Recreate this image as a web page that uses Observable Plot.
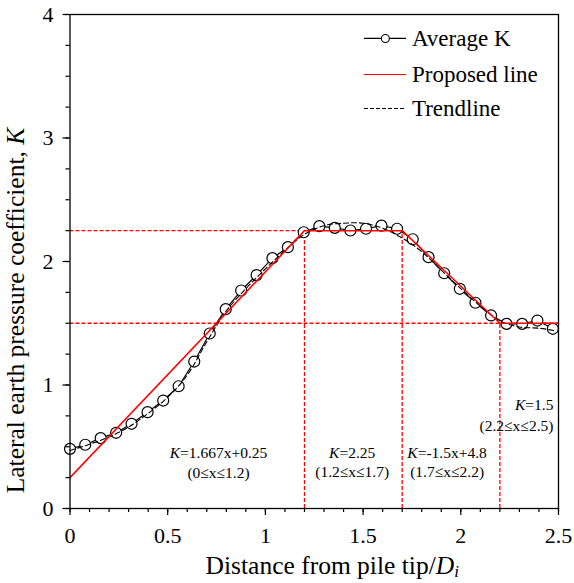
<!DOCTYPE html>
<html><head><meta charset="utf-8">
<script src="https://cdn.jsdelivr.net/npm/d3@7"></script>
<script src="https://cdn.jsdelivr.net/npm/@observablehq/plot@0.6"></script>
<style>
body{margin:0;background:#fff;}
#chart svg{display:block;}
</style></head><body><div id="chart"></div>
<script>
// Average K (circles)
const avgX = [0, 0.078, 0.157, 0.236, 0.315, 0.397, 0.477, 0.556, 0.636, 0.715, 0.797, 0.876,
  0.955, 1.036, 1.115, 1.196, 1.276, 1.355, 1.435, 1.515, 1.594, 1.674, 1.754, 1.835,
  1.915, 1.995, 2.075, 2.155, 2.234, 2.314, 2.392, 2.471];
const avgK = [0.483, 0.516, 0.57, 0.613, 0.686, 0.78, 0.874, 0.99, 1.19, 1.417, 1.614, 1.765,
  1.89, 2.027, 2.116, 2.237, 2.286, 2.272, 2.251, 2.265, 2.29, 2.265, 2.18, 2.035,
  1.905, 1.779, 1.666, 1.563, 1.495, 1.495, 1.522, 1.455];
// Trendline (dashed)
const trendX = [0, 0.1, 0.2, 0.3, 0.4, 0.5, 0.6, 0.7, 0.8, 0.9, 1.0, 1.1, 1.2, 1.3, 1.4, 1.5,
  1.6, 1.7, 1.8, 1.9, 2.0, 2.1, 2.2, 2.3, 2.4, 2.48];
const trendK = [0.47, 0.52, 0.58, 0.66, 0.77, 0.9, 1.08, 1.35, 1.6, 1.78, 1.94, 2.09, 2.22, 2.29,
  2.31, 2.31, 2.27, 2.19, 2.08, 1.93, 1.78, 1.64, 1.52, 1.47, 1.46, 1.44];
// Proposed line (red)
const propX = [0, 1.2, 1.7, 2.2, 2.5];
const propK = [0.25, 2.25, 2.25, 1.5, 1.5];
// Red dashed guides
const guideHK = [2.25, 1.5];
const guideHEnd = [1.2, 2.5];
const guideVX = [1.2, 1.7, 2.2];
const guideVTop = [2.25, 2.25, 1.5];
// Ticks
const xTicks = [0, 0.5, 1, 1.5, 2, 2.5];
const yTicks = [0, 1, 2, 3, 4];
// Texts
const legendLabels = ["Average K", "Proposed line", "Trendline"];
const xTitle = "Distance from pile tip/Di";
const yTitle = "Lateral earth pressure coefficient, K";
const eqLabels = ["K=1.667x+0.25", "K=2.25", "K=-1.5x+4.8", "K=1.5"];
const rangeLabels = ["(0≤x≤1.2)", "(1.2≤x≤1.7)", "(1.7≤x≤2.2)", "(2.2≤x≤2.5)"];

const FONT = "'Liberation Serif', 'Times New Roman', Times, serif";
const xMinor = d3.range(0, 2.5001, 0.1);
const yMinor = d3.range(0, 4.0001, 0.25);

// annotation anchors (data units)
const eqAt = [[0.76, 0.45, "middle"], [1.444, 0.45, "middle"], [1.93, 0.45, "middle"], [2.474, 0.835, "end"]];
const rgAt = [[0.76, 0.29, "middle"], [1.444, 0.295, "middle"], [1.93, 0.295, "middle"], [2.474, 0.67, "end"]];

const annMarks = [];
eqLabels.forEach((t, i) => {
  annMarks.push(Plot.text([t], {x: () => eqAt[i][0], y: () => eqAt[i][1], text: d => d, textAnchor: eqAt[i][2], fontSize: 15.5}));
  annMarks.push(Plot.text([rangeLabels[i]], {x: () => rgAt[i][0], y: () => rgAt[i][1], text: d => d, textAnchor: rgAt[i][2], fontSize: 15.5}));
});

const legY = [3.806, 3.514, 3.239];
const legColors = ["black", "red", "black"];
const legDash = [null, null, "4,2"];
const legMarks = [];
legendLabels.forEach((t, i) => {
  legMarks.push(Plot.ruleY([legY[i]], {x1: 1.507, x2: 1.722, stroke: legColors[i], strokeWidth: 1.2, strokeDasharray: legDash[i]}));
  legMarks.push(Plot.text([t], {x: () => 1.75, y: () => legY[i], text: d => d, textAnchor: "start", fontSize: 23}));
});
legMarks.push(Plot.dot([legY[0]], {x: () => 1.614, y: d => d, r: 4, stroke: "black", fill: "white", strokeWidth: 1.1}));

const plot = Plot.plot({
  width: 574, height: 583,
  marginLeft: 69.5, marginRight: 16, marginTop: 14, marginBottom: 75,
  x: {domain: [0, 2.5]},
  y: {domain: [0, 4]},
  style: {fontFamily: FONT, fontSize: "22px", color: "#000", background: "#fff"},
  marks: [
    Plot.ruleY(guideHK, {y: d => d, x1: 0, x2: (d, i) => guideHEnd[i], stroke: "red", strokeWidth: 1.3, strokeDasharray: "4,2"}),
    Plot.ruleX(guideVX, {x: d => d, y1: 0, y2: (d, i) => guideVTop[i], stroke: "red", strokeWidth: 1.3, strokeDasharray: "4,2"}),
    Plot.line(avgK, {x: avgX, y: avgK, stroke: "black", strokeWidth: 1.2}),
    Plot.dot(avgK, {x: avgX, y: avgK, r: 5.5, stroke: "black", fill: "white", strokeWidth: 1.2}),
    Plot.line(trendK, {x: trendX, y: trendK, stroke: "black", strokeWidth: 1.1, strokeDasharray: "5,3", curve: "catmull-rom"}),
    Plot.line(propK, {x: propX, y: propK, stroke: "red", strokeWidth: 1.5}),
    Plot.axisX(xMinor, {tickSize: 4, text: null, label: null, strokeWidth: 1.2}),
    Plot.axisX(xTicks, {tickSize: 7, tickPadding: 12, fontSize: 22, label: null, tickFormat: d => String(d), strokeWidth: 1.2}),
    Plot.axisY(yMinor, {tickSize: 4, text: null, label: null, strokeWidth: 1.2}),
    Plot.axisY(yTicks, {tickSize: 7, tickPadding: 9.5, fontSize: 22, label: null, tickFormat: d => String(d), strokeWidth: 1.2}),
    Plot.frame({stroke: "black", strokeWidth: 1.3}),
    ...annMarks,
    ...legMarks,
    Plot.text([xTitle], {frameAnchor: "bottom", text: d => d, textAnchor: "middle", lineAnchor: "middle", dx: 18, dy: 57, fontSize: 25.5}),
    Plot.text([yTitle], {frameAnchor: "left", text: d => d, textAnchor: "middle", lineAnchor: "middle", rotate: -90, dx: -54, dy: 49, fontSize: 25.5})
  ]
});

// rich text: italics and subscript
const rich = {
  "K=1.667x+0.25": [["K", "i"], ["=1.667x+0.25"]],
  "K=2.25": [["K", "i"], ["=2.25"]],
  "K=-1.5x+4.8": [["K", "i"], ["=-1.5x+4.8"]],
  "K=1.5": [["K", "i"], ["=1.5"]],
  [yTitle]: [["Lateral earth pressure coefficient, "], ["K", "i"]],
  [xTitle]: [["Distance from pile tip/"], ["D", "i"], ["i", "sub"]]
};
d3.select(plot).selectAll("text").each(function () {
  const el = this;
  const parts = rich[el.textContent];
  if (!parts || el.querySelector("tspan")) return;
  el.textContent = "";
  for (const [s, st] of parts) {
    const ts = document.createElementNS("http://www.w3.org/2000/svg", "tspan");
    ts.textContent = s;
    if (st === "i") ts.setAttribute("font-style", "italic");
    if (st === "sub") {
      ts.setAttribute("font-style", "italic");
      ts.setAttribute("font-size", "17");
      ts.setAttribute("dy", "0.22em");
    }
    el.appendChild(ts);
  }
});

document.getElementById("chart").appendChild(plot);
</script></body></html>
